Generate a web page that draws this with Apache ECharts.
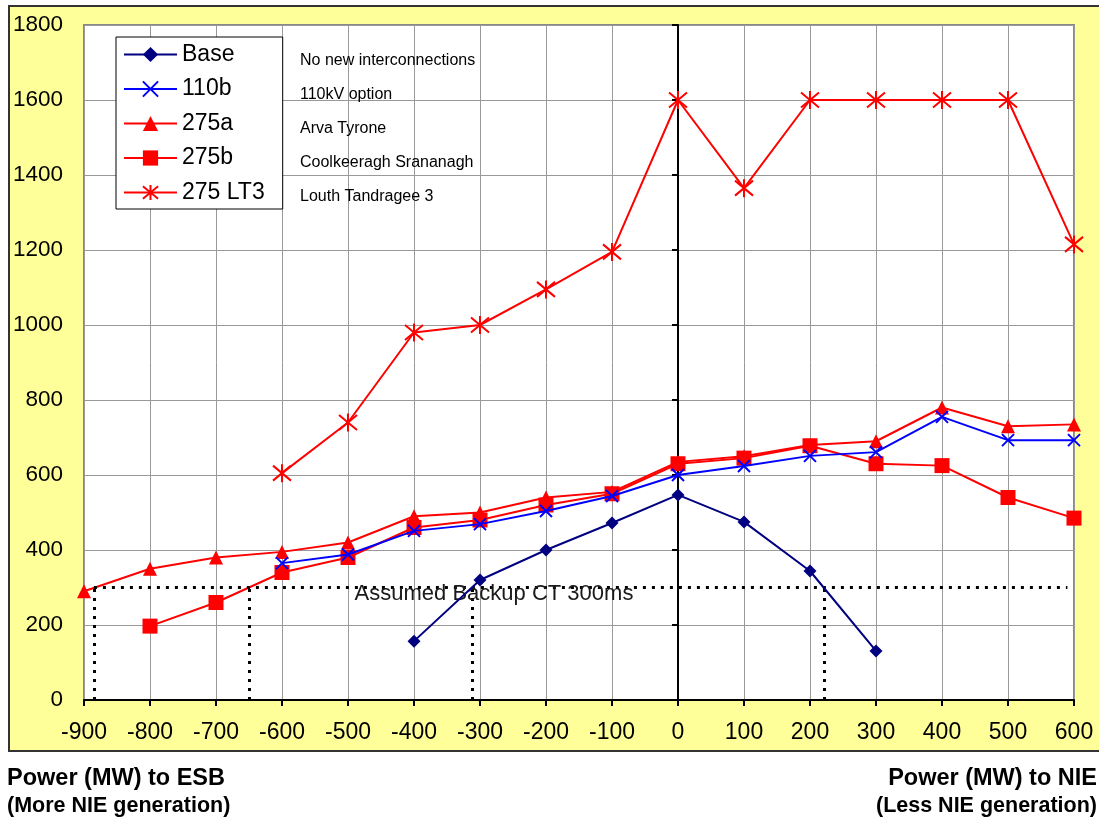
<!DOCTYPE html>
<html><head><meta charset="utf-8">
<script src="https://cdn.jsdelivr.net/npm/echarts@6/dist/echarts.min.js"></script>
<style>html,body{margin:0;padding:0;background:#fff}#c{width:1099px;height:823px}</style>
</head><body><div id="c"></div>
<script>
// ---- data ----
const seriesNames = ['Base', '110b', '275a', '275b', '275 LT3'];
const descriptions = ['No new interconnections', '110kV option', 'Arva Tyrone', 'Coolkeeragh Srananagh', 'Louth Tandragee 3'];

const baseX = [-400, -300, -200, -100, 0, 100, 200, 300];
const baseY = [157, 320, 400, 472, 547, 475, 344, 131];

const x110b = [-600, -500, -400, -300, -200, -100, 0, 100, 200, 300, 400, 500, 600];
const y110b = [365, 388, 451, 469, 504, 544, 600, 624, 651, 661, 755, 693, 693];

const x275a = [-900, -800, -700, -600, -500, -400, -300, -200, -100, 0, 100, 200, 300, 400, 500, 600];
const y275a = [290, 350, 380, 395, 420, 490, 500, 540, 555, 635, 650, 680, 690, 780, 730, 735];

const x275b = [-800, -700, -600, -500, -400, -300, -200, -100, 0, 100, 200, 300, 400, 500, 600];
const y275b = [197, 260, 340, 380, 460, 480, 520, 550, 630, 645, 678, 630, 625, 540, 485];

const xLT3 = [-600, -500, -400, -300, -200, -100, 0, 100, 200, 300, 400, 500, 600];
const yLT3 = [605, 740, 980, 1000, 1095, 1195, 1600, 1365, 1600, 1600, 1600, 1600, 1215];

const backupLevel = 300;
const backupLabel = 'Assumed Backup CT 300ms';
const backupLabelX = -490;
const backupLineEnd = 590;
const crossings = [-885, -650, -312, 221];

const xMin = -900, xMax = 600, xStep = 100;
const yMin = 0, yMax = 1800, yStep = 200;

const leftTitle = ['Power (MW) to ESB', '(More NIE generation)'];
const rightTitle = ['Power (MW) to NIE', '(Less NIE generation)'];

// ---- chart ----
const FONT = 'Arial, "Liberation Sans", sans-serif';
const zip = (xs, ys) => xs.map((x, i) => [x, ys[i]]);

const X_PATH = 'path://M0,0L10,10M10,0L0,10';
const AST_PATH = 'path://M0,0L10,10M10,0L0,10M5,-1L5,11';

const markLineData = [
  [{ coord: [crossings[0], backupLevel] }, { coord: [backupLineEnd, backupLevel] }]
].concat(crossings.map(c => [{ coord: [c, 0] }, { coord: [c, backupLevel] }]));

const titleText = (txt, side, y, size) => ({
  type: 'text', [side]: side === 'left' ? 7 : 2, top: y - size / 2,
  style: { text: txt, font: 'bold ' + size + 'px ' + FONT, fill: '#000' }
});

const chart = echarts.init(document.getElementById('c'), null, { renderer: 'canvas' });
chart.setOption({
  animation: false,
  backgroundColor: '#ffffff',
  textStyle: { fontFamily: FONT },
  graphic: [
    { type: 'rect', z: -10, shape: { x: 9, y: 6, width: 1100, height: 745 },
      style: { fill: '#FFFF99', stroke: '#333333', lineWidth: 2 } },
    titleText(leftTitle[0], 'left', 778, 23.5),
    titleText(leftTitle[1], 'left', 806, 21.5),
    titleText(rightTitle[0], 'right', 778, 23.5),
    titleText(rightTitle[1], 'right', 806, 21.5)
  ].concat(descriptions.map((d, i) => ({
    type: 'text', left: 300, top: 61 + i * 34 - 8, z: 10,
    style: { text: d, font: '16px ' + FONT, fill: '#000' }
  }))),
  grid: { left: 84, right: 25, top: 25, bottom: 123, show: true, backgroundColor: '#ffffff',
    borderColor: '#888888', borderWidth: 2 },
  legend: {
    orient: 'vertical', left: 116, top: 37,
    backgroundColor: '#ffffff', borderColor: '#000000', borderWidth: 1,
    padding: [6, 18, 5, 7], itemGap: 11.5, itemWidth: 53, itemHeight: 19,
    textStyle: { fontSize: 23, color: '#000', fontFamily: FONT },
    data: seriesNames
  },
  xAxis: {
    type: 'value', min: xMin, max: xMax, interval: xStep,
    axisLine: { onZero: false, lineStyle: { color: '#000', width: 2 } },
    axisTick: { show: true, length: 6, lineStyle: { color: '#000', width: 2 } },
    axisLabel: { fontSize: 23, color: '#000', margin: 21, fontFamily: FONT },
    splitLine: { show: true, lineStyle: { color: '#999999', width: 1 } }
  },
  yAxis: [{
    type: 'value', min: yMin, max: yMax, interval: yStep,
    axisLine: { show: false, onZero: false },
    axisTick: { show: false },
    axisLabel: { fontSize: 22.5, color: '#000', margin: 21, fontFamily: FONT, formatter: v => String(v) },
    splitLine: { show: true, lineStyle: { color: '#999999', width: 1 } }
  }, {
    type: 'value', min: yMin, max: yMax, interval: yStep, position: 'left',
    axisLine: { show: true, onZero: true, onZeroAxisIndex: 0, lineStyle: { color: '#000', width: 2 } },
    axisTick: { show: true, length: 6, lineStyle: { color: '#000', width: 2 } },
    axisLabel: { show: false },
    splitLine: { show: false }
  }],
  series: [
    { name: seriesNames[0], type: 'line', data: zip(baseX, baseY),
      symbol: 'diamond', symbolSize: 13,
      lineStyle: { color: '#000080', width: 2 }, itemStyle: { color: '#000080' },
      z: 5,
      markLine: { silent: true, symbol: 'none', label: { show: false },
        lineStyle: { color: '#000', width: 3, type: [3, 6] }, data: markLineData },
      markPoint: { silent: true, symbol: 'circle', symbolSize: 0,
        data: [{ coord: [backupLabelX, backupLevel] }],
        label: { show: true, position: 'right', distance: 0, offset: [0, 6], formatter: backupLabel,
          fontSize: 22, color: '#1a1a1a', fontFamily: FONT } } },
    { name: seriesNames[1], type: 'line', data: zip(x110b, y110b),
      symbol: X_PATH, symbolSize: 12,
      lineStyle: { color: '#0000FF', width: 2 },
      itemStyle: { color: '#0000FF', borderColor: '#0000FF', borderWidth: 2 }, z: 4 },
    { name: seriesNames[2], type: 'line', data: zip(x275a, y275a),
      symbol: 'triangle', symbolSize: 14,
      lineStyle: { color: '#FF0000', width: 2 }, itemStyle: { color: '#FF0000' }, z: 3 },
    { name: seriesNames[3], type: 'line', data: zip(x275b, y275b),
      symbol: 'rect', symbolSize: 15,
      lineStyle: { color: '#FF0000', width: 2 }, itemStyle: { color: '#FF0000' }, z: 3 },
    { name: seriesNames[4], type: 'line', data: zip(xLT3, yLT3),
      symbol: AST_PATH, symbolSize: 18,
      lineStyle: { color: '#FF0000', width: 2 },
      itemStyle: { color: '#FF0000', borderColor: '#FF0000', borderWidth: 2 }, z: 3 }
  ]
});
</script>
</body></html>
